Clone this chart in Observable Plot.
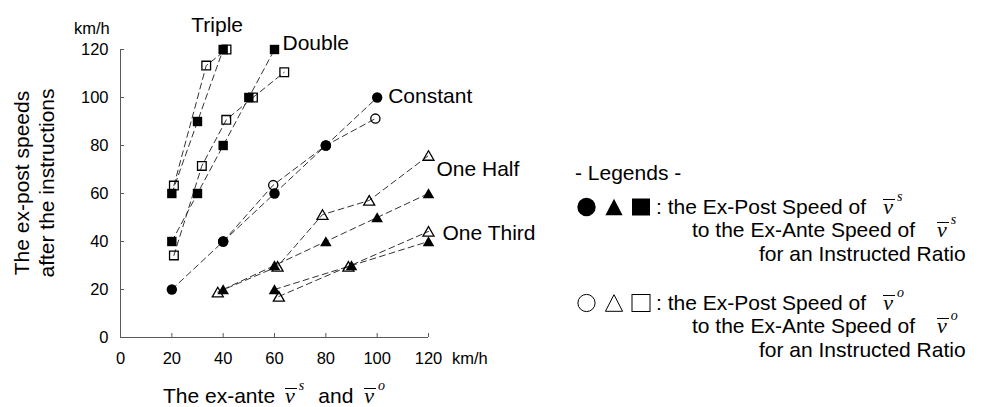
<!DOCTYPE html>
<html>
<head>
<meta charset="utf-8">
<script src="https://cdn.jsdelivr.net/npm/d3@7"></script>
<script src="https://cdn.jsdelivr.net/npm/@observablehq/plot@0.6"></script>
<style>
  html, body { margin: 0; padding: 0; background: #fff; }
  #wrap { position: relative; width: 989px; height: 407px; overflow: hidden; background: #fff; }
  #chart { position: absolute; left: 0; top: 0; }
  .t { position: absolute; white-space: pre; font-family: "Liberation Sans", Arial, sans-serif; font-size: 21px; line-height: 21px; color: #000; }
  .u { position: absolute; white-space: pre; font-family: "Liberation Sans", Arial, sans-serif; font-size: 16.5px; line-height: 16.5px; color: #000; }
  .v { font-family: "Liberation Serif", "Times New Roman", serif; font-style: italic; font-size: 22px; line-height: 0; position: relative; }
  .v::before { content: ""; position: absolute; left: 0px; right: -2px; top: 5px; border-top: 1.3px solid #000; }
  .s { font-family: "Liberation Serif", "Times New Roman", serif; font-style: italic; font-size: 14px; line-height: 0; vertical-align: 13px; margin-left: 4px; }
  #ytitle { position: absolute; width: 300px; height: 50px; left: -116.4px; top: 158px; transform: rotate(-90deg);
            font-family: "Liberation Sans", Arial, sans-serif; font-size: 21px; line-height: 25px; text-align: center; color: #000; white-space: pre; }
  #legsym { position: absolute; left: 0; top: 0; pointer-events: none; }
</style>
</head>
<body>
<div id="wrap">
  <div id="chart"></div>
</div>
<script>
// ---- data ----
const xTicks = [0, 20, 40, 60, 80, 100, 120];
const yTicks = [0, 20, 40, 60, 80, 100, 120];

const ratioNames = ["Triple", "Double", "Constant", "One Half", "One Third"];

// Triple
const tripleAnteS = [20, 30, 40];
const triplePostS = [60, 90, 120];
const tripleAnteO = [20.8, 33.4, 41.3];
const triplePostO = [63.3, 113.3, 120];
// Double
const doubleAnteS = [20, 30, 40, 50, 60];
const doublePostS = [40, 60, 80, 100, 120];
const doubleAnteO = [20.8, 31.7, 41.2, 51.6, 63.8];
const doublePostO = [34.2, 71.5, 90.7, 100, 110.5];
// Constant
const constAnteS = [20, 40, 60, 80, 100];
const constPostS = [20, 40, 60, 80, 100];
const constAnteO = [40, 59.5, 80, 99.3];
const constPostO = [40, 63.5, 80, 91.2];
// One Half
const halfAnteS = [40, 60, 80, 100, 120];
const halfPostS = [20, 30, 40, 50, 60];
const halfAnteO = [37.9, 61.2, 78.7, 96.9, 120];
const halfPostO = [18.9, 29.6, 51.2, 57.1, 75.8];
// One Third
const thirdAnteS = [60, 90, 120];
const thirdPostS = [20, 30, 40];
const thirdAnteO = [61.7, 88.8, 120];
const thirdPostO = [17.1, 29.6, 44.2];

const legendTitle = "- Legends -";
const legendLinesS = [": the Ex-Post Speed of", "to the Ex-Ante Speed of", "for an Instructed Ratio"];
const legendLinesO = [": the Ex-Post Speed of", "to the Ex-Ante Speed of", "for an Instructed Ratio"];

// ---- build table ----
const seriesDefs = [
  {ratio: "Triple", shape: "square", kind: "s", xs: tripleAnteS, ys: triplePostS},
  {ratio: "Triple", shape: "square", kind: "o", xs: tripleAnteO, ys: triplePostO},
  {ratio: "Double", shape: "square", kind: "s", xs: doubleAnteS, ys: doublePostS},
  {ratio: "Double", shape: "square", kind: "o", xs: doubleAnteO, ys: doublePostO},
  {ratio: "Constant", shape: "circle", kind: "s", xs: constAnteS, ys: constPostS},
  {ratio: "Constant", shape: "circle", kind: "o", xs: constAnteO, ys: constPostO},
  {ratio: "One Half", shape: "triangle", kind: "s", xs: halfAnteS, ys: halfPostS},
  {ratio: "One Half", shape: "triangle", kind: "o", xs: halfAnteO, ys: halfPostO},
  {ratio: "One Third", shape: "triangle", kind: "s", xs: thirdAnteS, ys: thirdPostS},
  {ratio: "One Third", shape: "triangle", kind: "o", xs: thirdAnteO, ys: thirdPostO}
];
const rows = seriesDefs.flatMap(d => d.xs.map((x, i) => ({ratio: d.ratio, shape: d.shape, kind: d.kind, key: d.ratio + d.kind, x, y: d.ys[i]})));
const pick = (shape, kind) => rows.filter(r => r.shape === shape && r.kind === kind);
const lastOf = (ratio, kind) => { const r = rows.filter(d => d.ratio === ratio && d.kind === kind); return [{...r[r.length - 1], label: ratio}]; };

const labelStyle = {x: "x", y: "y", text: "label", fontSize: 21, fill: "#000"};

const chart = Plot.plot({
  width: 989, height: 407,
  marginLeft: 120, marginRight: 561, marginTop: 49, marginBottom: 70,
  x: {domain: [0, 120], label: null},
  y: {domain: [0, 120], label: null},
  style: {fontFamily: "'Liberation Sans', Arial, sans-serif", fontSize: "16.5px", color: "#000", background: "#fff", overflow: "visible"},
  marks: [
    Plot.axisX({ticks: xTicks, tickSize: -4, tickPadding: 19, stroke: "#595959", label: null, tickFormat: d => String(d)}),
    Plot.axisY({ticks: yTicks, tickSize: -4, tickPadding: 16, stroke: "#595959", label: null, tickFormat: d => String(d)}),
    Plot.ruleX([0], {stroke: "#595959", strokeWidth: 1}),
    Plot.ruleY([0], {stroke: "#595959", strokeWidth: 1}),
    Plot.line(rows, {x: "x", y: "y", z: "key", stroke: "#333", strokeWidth: 1, strokeDasharray: "6,4"}),
    Plot.dot(pick("square", "s"), {x: "x", y: "y", symbol: "square", r: 5.3, fill: "#000"}),
    Plot.dot(pick("square", "o"), {x: "x", y: "y", symbol: "square", r: 4.9, fill: "none", stroke: "#000", strokeWidth: 1.3}),
    Plot.dot(pick("circle", "o"), {x: "x", y: "y", symbol: "circle", r: 4.6, fill: "none", stroke: "#000", strokeWidth: 1.3}),
    Plot.dot(pick("circle", "s"), {x: "x", y: "y", symbol: "circle", r: 5.2, fill: "#000"}),
    Plot.dot(pick("triangle", "o"), {x: "x", y: "y", symbol: "triangle", r: 4.1, dy: 1.5, fill: "none", stroke: "#000", strokeWidth: 1.3}),
    Plot.dot(pick("triangle", "s"), {x: "x", y: "y", symbol: "triangle", r: 4.3, dy: 1.5, fill: "#000"}),
    Plot.text(lastOf("Triple", "s"), {...labelStyle, dx: -6, dy: -24, textAnchor: "middle"}),
    Plot.text(lastOf("Double", "s"), {...labelStyle, dx: 8, dy: -6, textAnchor: "start"}),
    Plot.text(lastOf("Constant", "s"), {...labelStyle, dx: 11, dy: -1, textAnchor: "start"}),
    Plot.text(lastOf("One Half", "o"), {...labelStyle, dx: 8, dy: 14, textAnchor: "start"}),
    Plot.text(lastOf("One Third", "o"), {...labelStyle, dx: 14, dy: 1.5, textAnchor: "start"})
  ]
});
const wrap = document.getElementById("wrap");
document.getElementById("chart").appendChild(chart);

// ---- overlay text ----
function addText(cls, left, baseline, html, size) {
  const d = document.createElement("div");
  d.className = cls;
  d.style.left = left + "px";
  d.style.top = (baseline - 0.8465 * size) + "px";
  d.innerHTML = html;
  wrap.appendChild(d);
  return d;
}
const vb = (sup, ml) => `<span class="v" style="margin-left:${ml}px">v</span><span class="s">${sup}</span>`;

// unit labels
addText("u", 74, 33.5, "km/h", 16.5);
addText("u", 452, 363.5, "km/h", 16.5);

// y title
const yt = document.createElement("div");
yt.id = "ytitle";
yt.textContent = "The ex-post speeds\nafter the instructions";
wrap.appendChild(yt);

// x title
addText("t", 163, 402.5, "The ex-ante" + vb("s", 10) + `<span style="margin-left:14px">and</span>` + vb("o", 11), 21);

// legend
addText("t", 575, 180, legendTitle, 21);
const rowBase = [213.5, 309.5];
const lineLefts = [656, 692, 759];
const vMargins = [17, 22, null];
[[legendLinesS, "s"], [legendLinesO, "o"]].forEach(([lines, sup], ri) => {
  lines.forEach((ln, li) => {
    const html = ln + (vMargins[li] != null ? vb(sup, vMargins[li]) : "");
    addText("t", lineLefts[li], rowBase[ri] + li * 23.5, html, 21);
  });
});

// legend symbols
const ns = "http://www.w3.org/2000/svg";
const svg = document.createElementNS(ns, "svg");
svg.setAttribute("id", "legsym");
svg.setAttribute("width", 989);
svg.setAttribute("height", 407);
const symCx = [586.5, 614, 641];
const symCy = [207, 303];
symCy.forEach((cy, ri) => {
  const filled = ri === 0;
  const style = el => { el.setAttribute("fill", filled ? "#000" : "none"); el.setAttribute("stroke", "#000"); el.setAttribute("stroke-width", filled ? 0 : 1); };
  const c = document.createElementNS(ns, "circle");
  c.setAttribute("cx", symCx[0]); c.setAttribute("cy", cy); c.setAttribute("r", filled ? 9.2 : 8.6); style(c); svg.appendChild(c);
  const t = document.createElementNS(ns, "polygon");
  const tx = symCx[1];
  t.setAttribute("points", `${tx},${cy - 8.3} ${tx - 8.6},${cy + 8.3} ${tx + 8.6},${cy + 8.3}`); style(t); svg.appendChild(t);
  const s = document.createElementNS(ns, "rect");
  s.setAttribute("x", symCx[2] - 9); s.setAttribute("y", cy - 8.5); s.setAttribute("width", 18); s.setAttribute("height", 17); style(s); svg.appendChild(s);
});
wrap.appendChild(svg);
</script>
</body>
</html>
